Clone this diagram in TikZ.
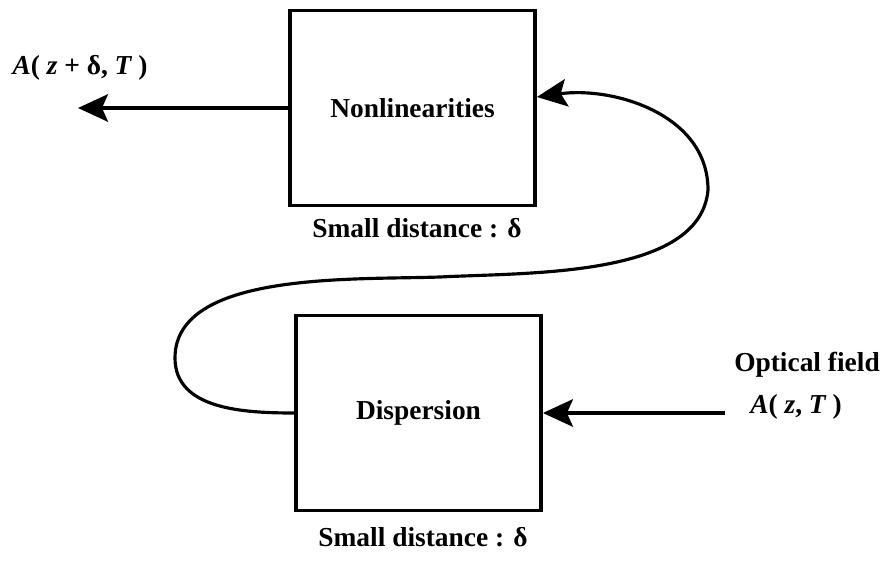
\documentclass[tikz,border=0pt]{standalone}
\usepackage{fontspec}
\setmainfont{Liberation Serif}
\usetikzlibrary{arrows.meta}

\begin{document}
\begin{tikzpicture}[
    box/.style={draw,line width=2.2pt,minimum width=4.9cm,minimum height=3.9cm},
    lbl/.style={font=\fontsize{15.6}{18}\selectfont\bfseries},
    arr/.style={line width=1.8pt,-{Stealth[length=6mm,width=5.5mm,inset=1.2mm]}}]
  \useasboundingbox (0,0) rectangle (17.76,11.26);
  \node[box,lbl] (nonlin) at (8.25,9.1) {Nonlinearities};
  \node[box,lbl] (disp) at (8.37,3.0) {Dispersion};
  \node[lbl] (dist1) at (8.34,6.7) {Small distance : δ};
  \node[lbl] (dist2) at (8.46,0.52) {Small distance : δ};
  \node[lbl] (outlbl) at (1.6,9.9) {{\itshape A}( {\itshape z} + δ, {\itshape T} )};
  \node[lbl] (field) at (16.14,3.96) {Optical field};
  \node[lbl] (inlbl) at (15.92,3.12) {{\itshape A}( {\itshape z}, {\itshape T} )};
  \coordinate (out) at (1.56,9.1);
  \coordinate (in) at (14.5,3.0);
  \coordinate (lft) at (3.5,4.1);
  \coordinate (top) at (8.8,5.72);
  \coordinate (rgt) at (14.16,7.46);
  \draw[arr] (nonlin.west) -- (out);
  \draw[arr] (in) -- (disp.east);
  \draw[arr] (disp.west) to[out=180,in=270] (lft)
    to[out=90,in=182,looseness=0.8] (top)
    to[out=3,in=265,looseness=0.8] (rgt)
    to[out=90,in=8] ([yshift=0.22cm]nonlin.east);
\end{tikzpicture}
\end{document}
